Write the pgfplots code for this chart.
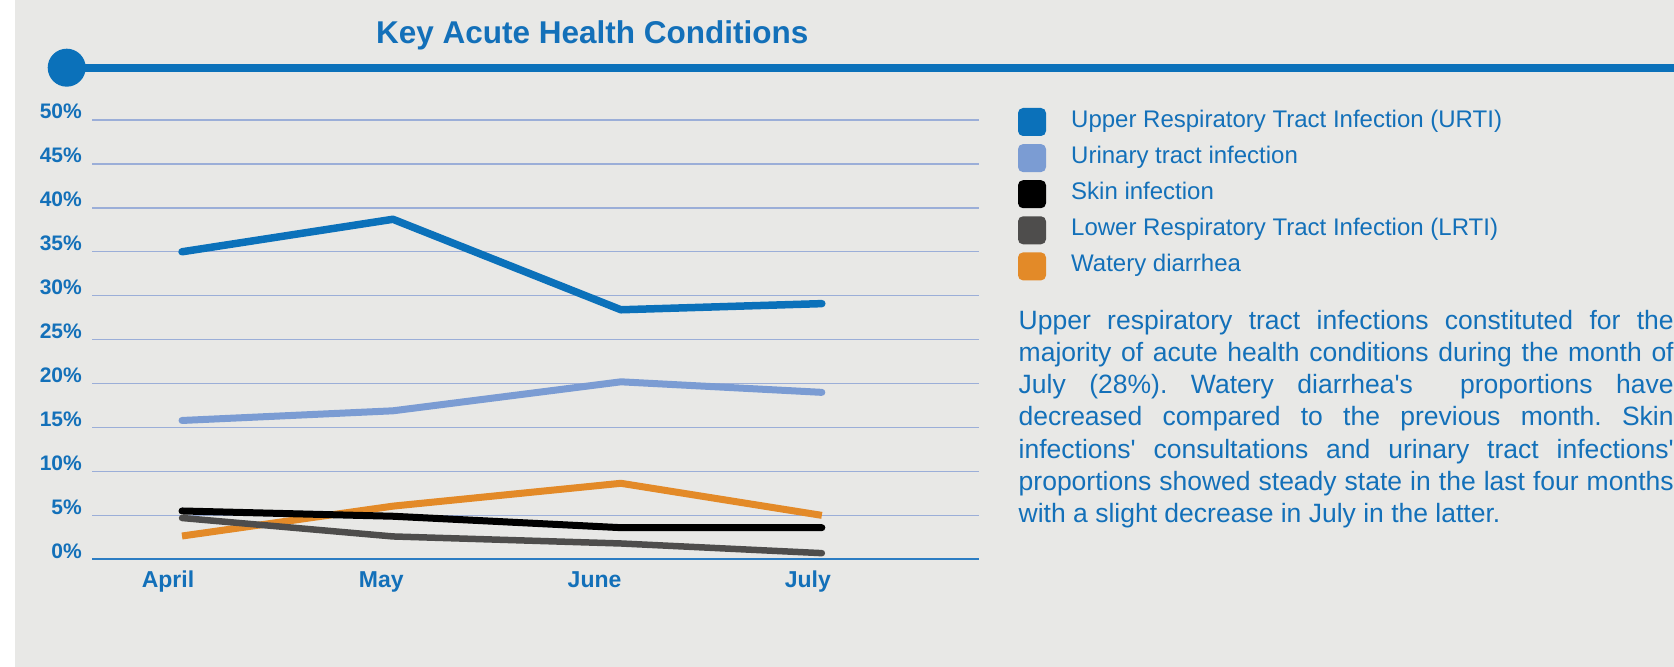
\documentclass[border=0pt]{standalone}
\usepackage{fontspec}
\setmainfont{Liberation Sans}[Ligatures=TeXOff]
\usepackage{pgfplots}
\pgfplotsset{compat=1.18}
\definecolor{bg}{HTML}{E8E8E6}
\definecolor{mblue}{HTML}{0B71BA}
\definecolor{tblue}{HTML}{1370B9}
\definecolor{lblue}{HTML}{7B9CD3}
\definecolor{dgrey}{HTML}{4E4D4C}
\definecolor{orng}{HTML}{E38A28}
\definecolor{gridc}{HTML}{9BAED8}
\definecolor{axc}{HTML}{2C7DC3}
\newcommand{\pl}[1]{\makebox[655bp][s]{#1}}
\frenchspacing
\begin{document}
\begin{tikzpicture}[x=1bp,y=1bp]
\path[use as bounding box] (0,0) rectangle (1674,667);
\clip (0,0) rectangle (1674,667);
\fill[white] (0,0) rectangle (1674,667);
\fill[bg] (14.7,0) rectangle (1674,667);
\fill[mblue] (66.7,595) rectangle (1674,603);
\fill[mblue] (66.7,599.3) circle (19);
\node[anchor=base west, text=tblue, font=\fontsize{31.5bp}{36bp}\selectfont\bfseries, inner sep=0] at (376,623.7) {Key Acute Health Conditions};

\begin{axis}[
  at={(92bp,107.7bp)}, anchor=south west,
  scale only axis, width=887bp, height=439.3bp,
  xmin=-0.422, xmax=3.737, ymin=0, ymax=50,
  separate axis lines,
  axis x line*=bottom, axis y line*=left,
  x axis line style={draw=axc, line width=1.6bp},
  y axis line style={draw=none},
  xtick={0,1,2,3}, xticklabels={April,May,June,July},
  ytick={0,5,...,50},
  yticklabels={0\%,5\%,10\%,15\%,20\%,25\%,30\%,35\%,40\%,45\%,50\%},
  major tick length=0pt,
  ymajorgrids, grid style={draw=gridc, line width=1.3bp},
  tick label style={text=tblue, font=\bfseries},
  xticklabel style={font=\fontsize{23bp}{23bp}\selectfont\bfseries, anchor=base, inner sep=0pt, yshift=-28bp, xshift=-14bp},
  yticklabel style={font=\fontsize{21bp}{21bp}\selectfont\bfseries, anchor=base east, inner sep=0pt, xshift=-10bp, yshift=1bp},
  clip=false,
]
\addplot[orng, line width=7bp, line cap=butt, line join=round] coordinates {(0,2.65) (0.989,6.05) (2.058,8.65) (3,5.0)};
\addplot[dgrey, line width=6.5bp, line cap=round, line join=round] coordinates {(0,4.7) (0.989,2.6) (2.058,1.8) (3,0.7)};
\addplot[black, line width=7bp, line cap=round, line join=round] coordinates {(0,5.5) (0.989,4.9) (2.058,3.6) (3,3.6)};
\addplot[lblue, line width=7bp, line cap=round, line join=round] coordinates {(0,15.8) (0.989,16.9) (2.058,20.2) (3,19.0)};
\addplot[mblue, line width=7.5bp, line cap=round, line join=round] coordinates {(0,35.0) (0.989,38.7) (2.058,28.4) (3,29.1)};
\end{axis}

% legend
\foreach \c/\t [count=\i from 0] in {mblue/Upper Respiratory Tract Infection (URTI), lblue/Urinary tract infection, black/Skin infection, dgrey/Lower Respiratory Tract Infection (LRTI), orng/Watery diarrhea}{
  \pgfmathsetmacro{\yb}{667-127.3-36.1*\i}
  \fill[\c, rounded corners=5bp] (1018,\yb+5.3-14) rectangle (1046,\yb+5.3+14);
  \node[anchor=base west, inner sep=0, text=tblue, font=\fontsize{24bp}{24bp}\selectfont] at (1071,\yb) {\t};
}

% paragraph
\begin{scope}[every node/.style={anchor=base west, inner sep=0, text=tblue, font=\fontsize{26.5bp}{26.5bp}\selectfont}]
\node at (1018.5,337.5) {\pl{Upper respiratory tract infections constituted for the}};
\node at (1018.5,305.3) {\pl{majority of acute health conditions during the month of}};
\node at (1018.5,273.2) {\pl{July (28\%). Watery diarrhea's\ \ proportions have}};
\node at (1018.5,241.0) {\pl{decreased compared to the previous month. Skin}};
\node at (1018.5,208.8) {\pl{infections' consultations and urinary tract infections'}};
\node at (1018.5,176.7) {\pl{proportions showed steady state in the last four months}};
\node at (1018.5,144.5) {with a slight decrease in July in the latter.};
\end{scope}
\end{tikzpicture}
\end{document}
